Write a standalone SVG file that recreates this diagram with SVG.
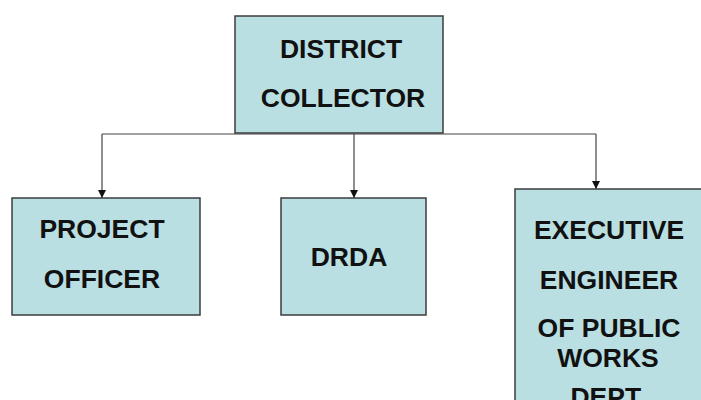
<svg xmlns="http://www.w3.org/2000/svg" width="701" height="400" viewBox="0 0 701 400">
  <defs>
    <style>
      .box { fill: #b9dfe3; stroke: #3c3c3c; stroke-width: 1.5; }
      .lbl { font-family: "Liberation Sans", Arial, sans-serif; font-weight: bold; font-size: 26.5px; fill: #111; text-anchor: middle; }
      .conn { fill: none; stroke: #444; stroke-width: 1.2; }
    </style>
    <marker id="arr" viewBox="0 0 8 8" refX="8" refY="4" markerWidth="8" markerHeight="8" markerUnits="userSpaceOnUse" orient="auto">
      <path d="M0,0 L8,4 L0,8 Z" fill="#111"/>
    </marker>
  </defs>
  <rect width="701" height="400" fill="#ffffff"/>
  <g id="connectors">
    <path class="conn" d="M102,134 H596"/>
    <path class="conn" d="M102,134 V198" marker-end="url(#arr)"/>
    <path class="conn" d="M354,134 V198" marker-end="url(#arr)"/>
    <path class="conn" d="M596,134 V189" marker-end="url(#arr)"/>
  </g>
  <g id="district-collector">
    <rect class="box" x="235" y="16" width="208" height="117"/>
    <text class="lbl" x="341" y="58">DISTRICT</text>
    <text class="lbl" x="343" y="107">COLLECTOR</text>
  </g>
  <g id="project-officer">
    <rect class="box" x="12" y="198" width="188" height="117"/>
    <text class="lbl" x="102" y="238">PROJECT</text>
    <text class="lbl" x="102" y="288">OFFICER</text>
  </g>
  <g id="drda">
    <rect class="box" x="281" y="198" width="145" height="117"/>
    <text class="lbl" x="349" y="266">DRDA</text>
  </g>
  <g id="executive-engineer">
    <rect class="box" x="515" y="189" width="200" height="230"/>
    <text class="lbl" x="609" y="239">EXECUTIVE</text>
    <text class="lbl" x="609" y="289">ENGINEER</text>
    <text class="lbl" x="609" y="337">OF PUBLIC</text>
    <text class="lbl" x="608" y="367">WORKS</text>
    <text class="lbl" x="608" y="406">DEPT.</text>
  </g>
</svg>
